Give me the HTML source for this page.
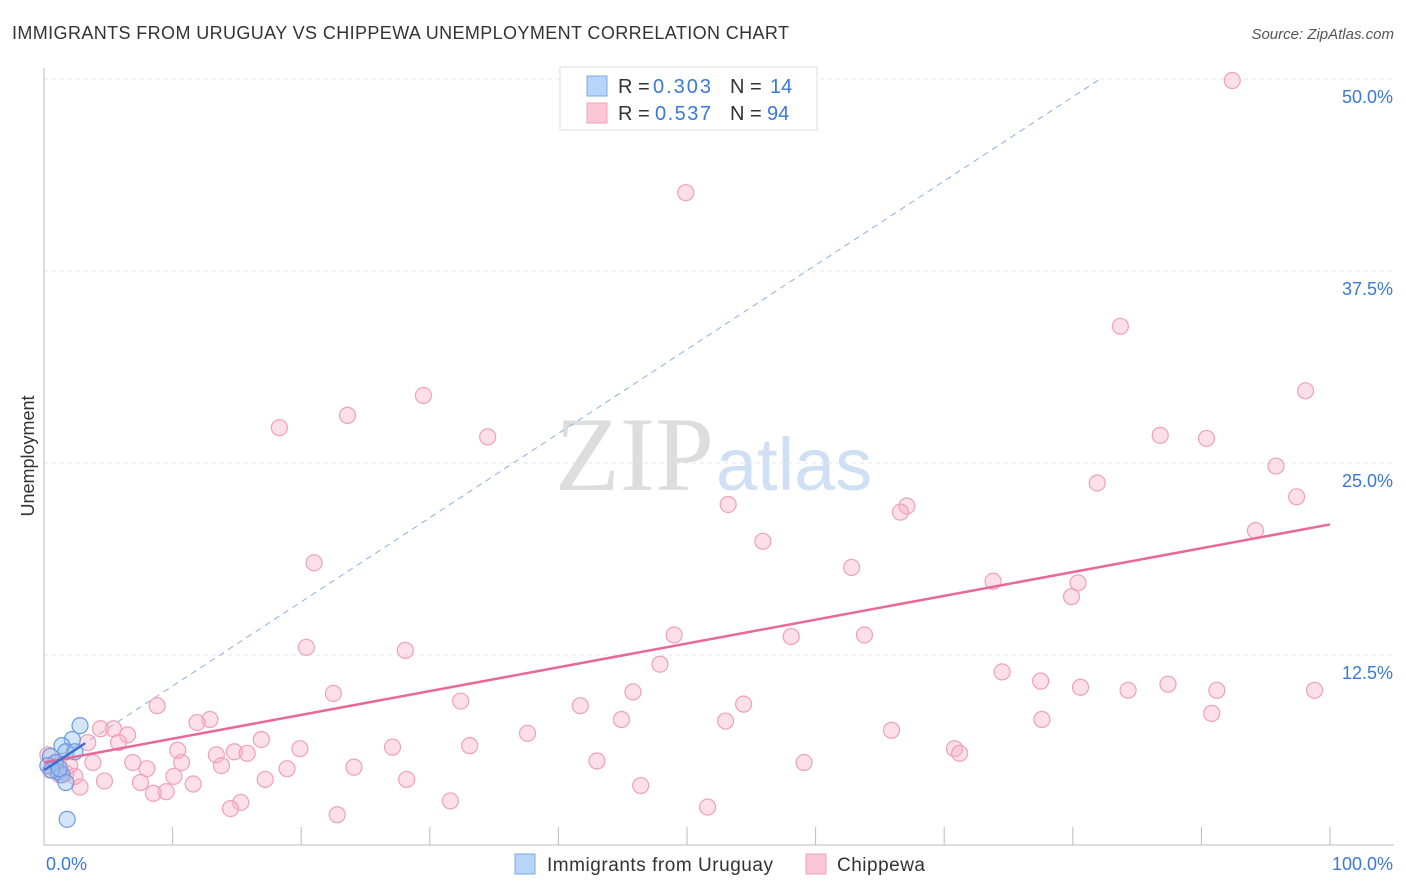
<!DOCTYPE html><html><head><meta charset="utf-8"><style>
body{margin:0;background:#fff;font-family:"Liberation Sans",sans-serif}
#c{position:relative;width:1406px;height:892px;overflow:hidden}
</style></head><body><div id="c">
<svg id="s" width="1406" height="892" xmlns="http://www.w3.org/2000/svg">
<text x="12" y="39" font-size="18" fill="#333" textLength="777">IMMIGRANTS FROM URUGUAY VS CHIPPEWA UNEMPLOYMENT CORRELATION CHART</text>
<text x="1394" y="39" font-size="15" fill="#555" font-style="italic" text-anchor="end">Source: ZipAtlas.com</text>
<text x="34" y="456" font-size="18" fill="#333" transform="rotate(-90 34 456)" text-anchor="middle">Unemployment</text>
<text x="714" y="490" font-size="106" fill="#ddd" font-family="Liberation Serif" text-anchor="end">ZIP</text>
<text x="716" y="490" font-size="74" fill="#cfe0f5">atlas</text>
<g id="grid"></g><g id="marks"></g>
<g>
<rect x="560" y="67" width="257" height="63" fill="#fff" stroke="#ddd"/>
<rect x="587" y="76" width="20" height="20" fill="#b8d4f8" stroke="#7aa8e8"/>
<rect x="587" y="103" width="20" height="20" fill="#fbc6d6" stroke="#f0a0b8"/>
<text x="618" y="93" font-size="20" fill="#333">R = </text><text x="653" y="93" font-size="20" fill="#3a78d8" textLength="58">0.303</text>
<text x="730" y="93" font-size="20" fill="#333">N = </text><text x="770" y="93" font-size="20" fill="#3a78d8">14</text>
<text x="618" y="120" font-size="20" fill="#333">R = </text><text x="655" y="120" font-size="20" fill="#3a78d8" textLength="56">0.537</text>
<text x="730" y="120" font-size="20" fill="#333">N = </text><text x="767" y="120" font-size="20" fill="#3a78d8">94</text>
</g>
<g>
<rect x="515" y="854" width="20" height="20" fill="#b8d4f8" stroke="#7aa8e8"/>
<text x="547" y="871" font-size="19" fill="#333" textLength="226">Immigrants from Uruguay</text>
<rect x="806" y="854" width="20" height="20" fill="#fbc6d6" stroke="#f0a0b8"/>
<text x="837" y="871" font-size="19" fill="#333" textLength="88">Chippewa</text>
</g>
</svg></div>
<script>
const yTicks=[12.5,25,37.5,50];
const yTickLabels=["12.5%","25.0%","37.5%","50.0%"];
const xTickLabels=["0.0%","100.0%"];
const pinkX=[92.4,49.9,83.7,98.1,29.5,23.6,18.3,34.5,86.8,90.4,95.8,81.9,53.2,67.1,66.6,97.4,94.2,55.9,21.0,62.8,73.8,80.4,79.9,49.0,58.1,63.8,20.4,28.1,47.9,74.5,77.5,80.6,84.3,87.4,91.2,98.8,22.5,45.8,32.4,8.8,41.7,54.4,90.8,12.9,11.9,44.9,53.0,77.6,4.4,5.4,65.9,37.6,6.5,3.4,16.9,5.8,10.4,19.9,27.1,33.1,70.8,71.2,13.4,14.8,15.8,3.8,6.9,10.7,43.0,59.1,13.8,8.0,18.9,24.1,10.1,17.2,28.2,4.7,7.5,11.6,2.8,46.4,8.5,9.5,15.3,31.6,14.5,51.6,22.8,0.3,0.9,1.7,2.4,1.1,2.0,0.5,1.2];
const pinkY=[49.9,42.6,33.9,29.7,29.4,28.1,27.3,26.7,26.8,26.6,24.8,23.7,22.3,22.2,21.8,22.8,20.6,19.9,18.5,18.2,17.3,17.2,16.3,13.8,13.7,13.8,13.0,12.8,11.9,11.4,10.8,10.4,10.2,10.6,10.2,10.2,10.0,10.1,9.5,9.2,9.2,9.3,8.7,8.3,8.1,8.3,8.2,8.3,7.7,7.7,7.6,7.4,7.3,6.8,7.0,6.8,6.3,6.4,6.5,6.6,6.4,6.1,6.0,6.2,6.1,5.5,5.5,5.5,5.6,5.5,5.3,5.1,5.1,5.2,4.6,4.4,4.4,4.3,4.2,4.1,3.9,4.0,3.5,3.6,2.9,3.0,2.5,2.6,2.1,6.0,5.0,4.8,4.6,5.5,5.3,5.0,4.7];
const blueX=[2.8,2.2,1.4,1.7,2.4,0.5,0.9,0.3,1.1,1.4,1.7,1.8,0.6,1.2];
const blueY=[7.9,7.0,6.6,6.2,6.2,5.9,5.5,5.3,4.9,4.7,4.2,1.8,5.0,5.1];
const pinkTrend=[5.5,21.0];
const blueTrend=[5.0,0.548];
const sx=v=>44+v*12.86, sy=v=>847-v*15.36;
const NS="http://www.w3.org/2000/svg";
const g=document.getElementById('grid'), m=document.getElementById('marks');
function mk(tag,at,par){const e=document.createElementNS(NS,tag);for(const k in at)e.setAttribute(k,at[k]);par.appendChild(e);return e;}
yTicks.forEach((t,i)=>{
 const l=mk('line',{x1:44,x2:1394,y1:sy(t),y2:sy(t),stroke:'#e4e4e4','stroke-dasharray':'4,4'},g);
 
 
 const tx=mk('text',{x:1393,y:sy(t)+24,'font-size':18,fill:'#3a78d8','text-anchor':'end'},g);tx.textContent=yTickLabels[i];
 
 
});
const ax=mk('line',{x1:44,x2:1394,y1:845,y2:845,stroke:'#bbb'},g);


const ay=mk('line',{x1:44,x2:44,y1:68,y2:845,stroke:'#bbb'},g);


for(let i=1;i<=10;i++){const t=mk('line',{x1:sx(i*10),x2:sx(i*10),y1:827,y2:845,stroke:'#bbb'},g);
 
 }
[[0,'start',46],[100,'end',1393]].forEach((a,i)=>{const t=mk('text',{x:a[2],y:870,'font-size':18,fill:'#3a78d8','text-anchor':a[1]},g);t.textContent=xTickLabels[i];
 
 });
const bx2=(50-blueTrend[0])/blueTrend[1];
const bd=mk('line',{x1:sx(0),y1:sy(blueTrend[0]),x2:sx(bx2),y2:sy(50),stroke:'#8ab0e0','stroke-dasharray':'6,5'},m);


pinkX.forEach((x,i)=>{const c=mk('circle',{cx:sx(x),cy:sy(pinkY[i]),r:8,fill:'rgba(248,175,198,0.4)',stroke:'#f0a0b8','stroke-width':1.2},m);
 
 });
blueX.forEach((x,i)=>{const c=mk('circle',{cx:sx(x),cy:sy(blueY[i]),r:8,fill:'rgba(150,190,240,0.4)',stroke:'#6a9be0','stroke-width':1.2},m);
 
 });
const pl=mk('line',{x1:sx(0),y1:sy(pinkTrend[0]),x2:sx(100),y2:sy(pinkTrend[1]),stroke:'#e8689a','stroke-width':2.5},m);


const bl=mk('line',{x1:sx(0),y1:sy(blueTrend[0]),x2:sx(3.2),y2:sy(blueTrend[0]+3.2*blueTrend[1]),stroke:'#3a6fd0','stroke-width':2.5},m);


</script></body></html>
